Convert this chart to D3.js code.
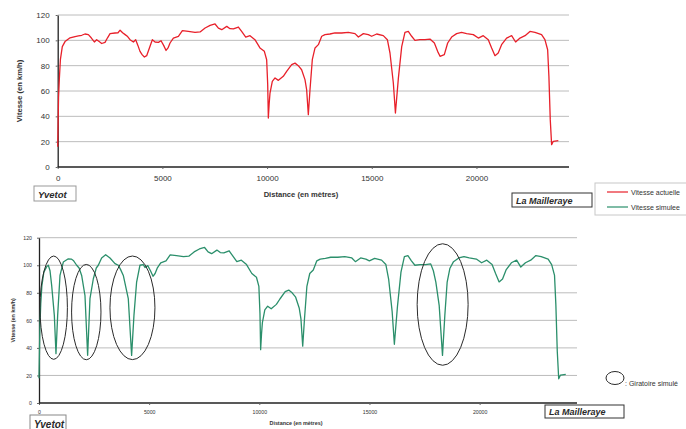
<!DOCTYPE html>
<html>
<head>
<meta charset="utf-8">
<script src="https://cdn.jsdelivr.net/npm/d3@7"></script>
<style>
  body { margin: 0; background: #fff; }
  svg { display: block; font-family: "Liberation Sans", Arial, sans-serif; }
</style>
</head>
<body>
<script>
// distance (m), vitesse (km/h)
var vitesseActuelle = [[0,16],[40,55],[80,70],[130,85],[220,95],[350,99],[590,102],[830,103],[990,103.5],[1150,104],[1300,105],[1465,104.5],[1600,102],[1750,98.7],[1860,100.5],[1980,99],[2100,97.5],[2260,98.4],[2380,102],[2500,105.3],[2740,105.8],[2880,106],[2980,108],[3100,106],[3220,104.5],[3340,103],[3455,100.5],[3615,98.7],[3725,100.5],[3830,96],[3930,91.3],[4040,88.5],[4140,86.8],[4250,87.9],[4380,94],[4520,100.5],[4650,98.7],[4810,98.4],[4935,99.7],[5060,96],[5175,92],[5270,94],[5365,97.9],[5525,101.8],[5765,103.2],[5955,107.6],[6240,107],[6560,106.3],[6800,106.6],[7040,109.7],[7280,111.8],[7515,112.9],[7675,109.7],[7835,108.4],[8075,111],[8230,109.2],[8390,109],[8630,110.5],[8785,107],[8980,102.6],[9185,103.7],[9420,100.5],[9660,94],[9870,91.3],[9980,84.7],[10030,65],[10060,38.7],[10100,50],[10140,58.4],[10250,67.6],[10380,70.3],[10540,68.4],[10775,71.6],[10935,75.5],[11175,80.8],[11335,82],[11490,80],[11650,76.8],[11810,69],[11890,61],[11970,41.3],[12050,61],[12160,84.7],[12290,94],[12450,96.6],[12610,103.2],[12765,104.5],[13000,105],[13240,105.8],[13560,105.8],[13880,106.3],[14200,105.3],[14360,102.6],[14600,105.3],[14835,104.5],[14995,103.2],[15235,105],[15550,103.7],[15745,100.5],[15870,90],[16030,66.3],[16130,42.6],[16270,70],[16430,95],[16585,106.3],[16745,107],[16905,103.2],[17063,100],[17300,100.5],[17540,100.5],[17780,101],[17990,97.9],[18145,91.3],[18260,87.4],[18465,88.7],[18625,97.9],[18815,102.6],[19053,105.3],[19290,106.3],[19530,105.3],[19850,104.5],[20090,101.8],[20325,103.7],[20565,100.5],[20725,94],[20885,87.9],[21040,90],[21200,96.6],[21440,101.8],[21680,103.7],[21870,98.7],[22080,101.8],[22320,103.7],[22555,107],[22795,106.3],[23110,104.5],[23270,100.5],[23400,92.6],[23460,71.6],[23525,37.4],[23590,17.6],[23670,20.3],[23910,20.8]];

var vitesseSimulee = [[0,18],[40,55],[80,72],[130,85],[220,95],[350,99],[423,100],[500,96],[575,85.4],[696,63.6],[771,35.8],[847,63.6],[953,92.6],[1104,102.3],[1331,104.7],[1465,104.5],[1558,103.5],[1710,100],[1820,98],[1936,92.6],[2087,78],[2208,34.6],[2314,75.7],[2466,90.2],[2600,98],[2692,100],[2843,105.3],[3025,107.6],[3222,105.3],[3449,101.2],[3600,100],[3700,97],[3827,92.6],[4053,75.7],[4204,34.6],[4310,63.6],[4431,87.8],[4582,100],[4733,100.5],[4810,98.4],[4935,99.7],[5060,96],[5175,92],[5270,94],[5365,97.9],[5525,101.8],[5765,103.2],[5955,107.6],[6240,107],[6560,106.3],[6800,106.6],[7040,109.7],[7280,111.8],[7515,112.9],[7675,109.7],[7835,108.4],[8075,111],[8230,109.2],[8390,109],[8630,110.5],[8785,107],[8980,102.6],[9185,103.7],[9420,100.5],[9660,94],[9870,91.3],[9980,84.7],[10030,65],[10060,38.7],[10100,50],[10140,58.4],[10250,67.6],[10380,70.3],[10540,68.4],[10775,71.6],[10935,75.5],[11175,80.8],[11335,82],[11490,80],[11650,76.8],[11810,69],[11890,61],[11970,41.3],[12050,61],[12160,84.7],[12290,94],[12450,96.6],[12610,103.2],[12765,104.5],[13000,105],[13240,105.8],[13560,105.8],[13880,106.3],[14200,105.3],[14360,102.6],[14600,105.3],[14835,104.5],[14995,103.2],[15235,105],[15550,103.7],[15745,100.5],[15870,90],[16030,66.3],[16130,42.6],[16270,70],[16430,95],[16585,106.3],[16745,107],[16905,103.2],[17063,100],[17300,100.5],[17540,100.5],[17780,101],[17900,96],[18013,87.8],[18164,70.9],[18315,34.6],[18421,63.6],[18527,87.8],[18648,97.6],[18815,102.6],[19053,105.3],[19290,106.3],[19530,105.3],[19850,104.5],[20090,101.8],[20325,103.7],[20565,100.5],[20725,94],[20885,87.9],[21040,90],[21200,96.6],[21440,101.8],[21680,103.7],[21870,98.7],[22080,101.8],[22320,103.7],[22555,107],[22795,106.3],[23110,104.5],[23270,100.5],[23400,92.6],[23460,71.6],[23525,37.4],[23590,17.6],[23670,20.3],[23910,20.8]];

var xTicks = [0, 5000, 10000, 15000, 20000];
var yTicks = [0, 20, 40, 60, 80, 100, 120];
var xMax = 24420;
var yMax = 120;

// giratoires simulés: [distance centre, vitesse centre, demi-largeur (m), demi-hauteur (km/h)]
var giratoires = [[667, 69.2, 622, 37.5], [2146, 66, 667, 34.6], [4242, 69.1, 1021, 37.6], [18321, 71.5, 1157, 44.1]];

var legendLabels = ["Vitesse actuelle", "Vitesse simulee"];
var colors = ["#e8202a", "#2b8f6b"];

var svg = d3.select("body").append("svg")
  .attr("width", 686)
  .attr("height", 429);

function drawChart(o) {
  var x = d3.scaleLinear().domain([0, xMax]).range([o.left, o.right]);
  var y = d3.scaleLinear().domain([0, yMax]).range([o.bottom, o.top]);
  var g = svg.append("g");

  // gridlines
  g.selectAll(".grid").data(yTicks.slice(1)).enter().append("line")
    .attr("x1", o.left).attr("x2", o.right)
    .attr("y1", d => y(d)).attr("y2", d => y(d))
    .attr("stroke", "#bcbcbc").attr("stroke-width", 1);

  var xAxis = g.append("g")
    .attr("transform", "translate(0," + o.bottom + ")")
    .call(d3.axisBottom(x).tickValues(xTicks).tickFormat(d3.format("d"))
      .tickSize(2).tickSizeOuter(0).tickPadding(o.pad));
  var yAxis = g.append("g")
    .attr("transform", "translate(" + o.left + ",0)")
    .call(d3.axisLeft(y).tickValues(yTicks).tickFormat(d3.format("d"))
      .tickSize(2).tickSizeOuter(0).tickPadding(o.pad));
  [xAxis, yAxis].forEach(a => {
    a.select(".domain").attr("stroke", "#222").attr("stroke-width", 1.3);
    a.selectAll(".tick line").attr("stroke", "#666");
    a.selectAll("text").attr("font-size", o.tickFont).attr("fill", "#333")
      .attr("font-family", "Liberation Sans, Arial, sans-serif");
  });
  // x axis line should reach right end
  xAxis.select(".domain").attr("d", "M" + o.left + ",0H" + o.right);

  var line = d3.line().x(d => x(d[0])).y(d => y(d[1]));
  g.append("path")
    .datum(o.data)
    .attr("d", line)
    .attr("fill", "none")
    .attr("stroke", o.color)
    .attr("stroke-width", 1.3)
    .attr("stroke-linejoin", "round");

  // axis titles
  g.append("text")
    .attr("transform", "translate(" + o.yTitleX + "," + ((o.top + o.bottom) / 2) + ") rotate(-90)")
    .attr("text-anchor", "middle")
    .attr("font-size", o.titleFont).attr("font-weight", "bold").attr("fill", "#333")
    .text("Vitesse (en km/h)");
  g.append("text")
    .attr("x", o.xTitleX).attr("y", o.xTitleY)
    .attr("text-anchor", "middle")
    .attr("font-size", o.titleFont).attr("font-weight", "bold").attr("fill", "#333")
    .text("Distance (en mètres)");

  return {x: x, y: y, g: g};
}

function placeBox(x0, y0, w, h, label, size, stroke) {
  svg.append("rect")
    .attr("x", x0).attr("y", y0).attr("width", w).attr("height", h)
    .attr("fill", "#fff").attr("stroke", stroke).attr("stroke-width", 1);
  svg.append("text")
    .attr("x", x0 + 4).attr("y", y0 + h - 3.5)
    .attr("font-size", size).attr("font-weight", "bold").attr("font-style", "italic")
    .attr("fill", "#2a2a2a")
    .text(label);
}

// top chart: vitesse actuelle
drawChart({
  left: 57.7, right: 569, top: 15, bottom: 167,
  data: vitesseActuelle, color: colors[0],
  tickFont: "8px", titleFont: "7.6px", pad: 6,
  yTitleX: 22, xTitleX: 301, xTitleY: 197
});

// bottom chart: vitesse simulee
var bottom = drawChart({
  left: 39, right: 577, top: 237.7, bottom: 403,
  data: vitesseSimulee, color: colors[1],
  tickFont: "5.2px", titleFont: "5.4px", pad: 5,
  yTitleX: 15, xTitleX: 296, xTitleY: 425
});

// ellipses round the simulated roundabouts
bottom.g.selectAll(".gir").data(giratoires).enter().append("ellipse")
  .attr("cx", d => bottom.x(d[0]))
  .attr("cy", d => bottom.y(d[1]))
  .attr("rx", d => bottom.x(d[2]) - bottom.x(0))
  .attr("ry", d => bottom.y(0) - bottom.y(d[3]))
  .attr("fill", "none").attr("stroke", "#2a2a2a").attr("stroke-width", 1);

// place name boxes
placeBox(34, 186, 42, 15, "Yvetot", "9.5px", "#999");
placeBox(512, 193, 80, 14, "La Mailleraye", "9px", "#333");
placeBox(30, 415, 36, 16, "Yvetot", "10px", "#888");
placeBox(545, 405, 79, 13, "La Mailleraye", "9px", "#333");

// legend
var legend = svg.append("g");
legend.append("rect")
  .attr("x", 595).attr("y", 183).attr("width", 100).attr("height", 32)
  .attr("fill", "#fff").attr("stroke", "#c8c8c8");
legendLabels.forEach((lab, i) => {
  var ly = 192 + i * 15;
  legend.append("line")
    .attr("x1", 607).attr("x2", 628).attr("y1", ly).attr("y2", ly)
    .attr("stroke", colors[i]).attr("stroke-width", 1.2);
  legend.append("text")
    .attr("x", 631).attr("y", ly + 2.5)
    .attr("font-size", "7px").attr("fill", "#333")
    .text(lab);
});

// legend for the ellipses
svg.append("ellipse")
  .attr("cx", 615).attr("cy", 378).attr("rx", 9).attr("ry", 6.5)
  .attr("fill", "none").attr("stroke", "#2a2a2a").attr("stroke-width", 1);
svg.append("text")
  .attr("x", 625).attr("y", 386)
  .attr("font-size", "7px").attr("fill", "#333")
  .text(": Giratoire simulé");
</script>
</body>
</html>
